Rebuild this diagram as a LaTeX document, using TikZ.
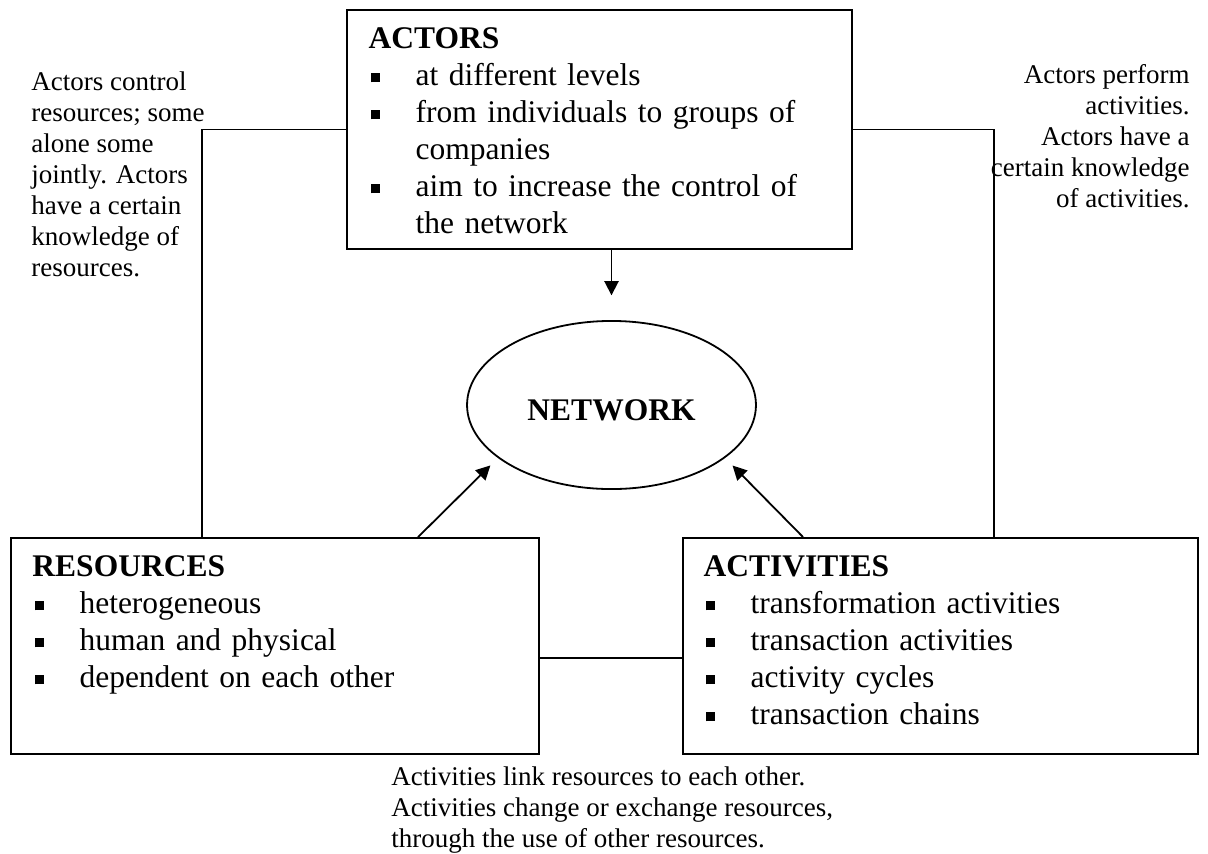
\documentclass[tikz,border=0pt]{standalone}
\usepackage{fontspec}
\setmainfont{Liberation Serif}
\usetikzlibrary{shapes.geometric,arrows.meta,calc}
\setlength{\parindent}{0pt}
% square bullet line, and its continuation line
\newcommand{\sqitem}[1]{\par\noindent\hspace*{0.9pt}\makebox[20pt][l]{\raisebox{1.3pt}{\rule{4pt}{4pt}}}#1}
\newcommand{\sqcont}[1]{\par\noindent\hspace*{20.9pt}#1}
\tikzset{
  block/.style={draw, rectangle, line width=0.8pt, inner sep=0pt},
  blocktext/.style={anchor=north west, inner sep=0pt, text width=220pt, align=left, font=\fontsize{14}{16.44}\selectfont},
  note/.style={inner sep=0pt, font=\fontsize{12}{13.8}\selectfont},
  link/.style={line width=0.8pt},
  arr/.style={line width=0.8pt, -{Triangle[length=6.3pt,width=6.3pt]}}
}
\begin{document}
\begin{tikzpicture}[x=0.4444pt, y=-0.4444pt]
    \useasboundingbox (0,0) rectangle (1208,854);
    % Khung ba khoi
    \node[block, minimum width=224.4pt, minimum height=106.2pt] (actors) at (599.5,129.5) {};
    \node[block, minimum width=234.7pt, minimum height=96pt] (res) at (275,646) {};
    \node[block, minimum width=228.9pt, minimum height=96pt] (act) at (940.5,646) {};

    % Noi dung cac khoi
    \node[blocktext] (actorsTxt) at ($(actors.north west)+(22,18)$) {{\bfseries ACTORS}
      \sqitem{at different levels}
      \sqitem{from individuals to groups of}
      \sqcont{companies}
      \sqitem{aim to increase the control of}
      \sqcont{the network}};
    \node[blocktext] (resTxt) at ($(res.north west)+(22,18)$) {{\bfseries RESOURCES}
      \sqitem{heterogeneous}
      \sqitem{human and physical}
      \sqitem{dependent on each other}};
    \node[blocktext] (actTxt) at ($(act.north west)+(21,18)$) {{\bfseries ACTIVITIES}
      \sqitem{transformation activities}
      \sqitem{transaction activities}
      \sqitem{activity cycles}
      \sqitem{transaction chains}};

    % Mang o giua
    \node[ellipse, draw, line width=0.8pt, minimum width=128.4pt, minimum height=74.7pt, inner sep=0pt,
      font=\fontsize{14}{16.44}\selectfont\bfseries, text height=13.8pt] (net) at (611.5,405) {NETWORK};

    % Ghi chu
    \node[note, anchor=north west, align=left] (ctrlNote) at (31,71) {Actors control\\resources; some\\alone some\\jointly. Actors\\have a certain\\knowledge of\\resources.};
    \node[note, anchor=north east, align=right] (perfNote) at (1190,64) {Actors perform\\activities.\\Actors have a\\certain knowledge\\of activities.};
    \node[note, anchor=north west, align=left] (linkNote) at (391,766) {Activities link resources to each other.\\Activities change or exchange resources,\\through the use of other resources.};

    % Duong noi
    \draw[link] (actors.west) -| ($(res.north west)+(192,0)$);
    \draw[link] (actors.east) -| ($(act.north west)+(312,0)$);
    \draw[link] ($(res.east)+(0,12)$) -- ($(act.west)+(0,12)$);

    % Mui ten vao mang
    \draw[arr, shorten >=11pt] (actors.south -| net.north) -- (net.north);
    \draw[arr, shorten >=4.7pt] ($(res.north west)+(408,0)$) -- (net.205);
    \draw[arr, shorten >=4.7pt] ($(act.north west)+(121,0)$) -- (net.335);
\end{tikzpicture}
\end{document}
